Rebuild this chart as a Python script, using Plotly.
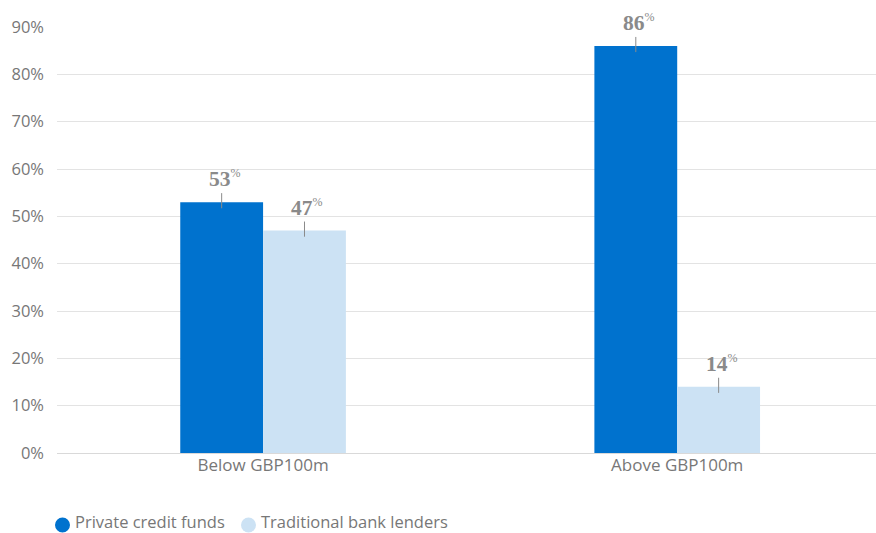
import plotly.graph_objects as go

categories = ["Below GBP100m", "Above GBP100m"]
series_names = ["Private credit funds", "Traditional bank lenders"]
private_credit = [53, 86]
bank_lenders = [47, 14]
y_ticks = [0, 10, 20, 30, 40, 50, 60, 70, 80, 90]

colors = ["#0072CE", "#CCE2F4"]
xpos = list(range(len(categories)))
offsets = [-0.1, 0.1]

W, H = 876, 533
ML, MR, MT, MB = 57, 0, 27, 80
PW, PH = W - ML - MR, H - MT - MB

def px_x(p):
    return (p - ML) / PW

def px_y(p):
    return (H - MB - p) / PH

fig = go.Figure()
for name, vals, col in zip(series_names, [private_credit, bank_lenders], colors):
    fig.add_trace(go.Bar(x=xpos, y=vals, name=name, marker_color=col,
                         marker_line_width=0, showlegend=False))

annotations = []
shapes = []
for vals, off in zip([private_credit, bank_lenders], offsets):
    for xi, v in zip(xpos, vals):
        shapes.append(dict(type="line", xref="x", yref="y", x0=xi + off, x1=xi + off,
                           y0=v - 1.3, y1=v + 1.9, line=dict(color="#8a8a8a", width=1)))
        annotations.append(dict(x=xi + off, y=v, xref="x", yref="y",
                                text=f"<b>{v}</b><sup><span style='font-size:12px'>%</span></sup>",
                                showarrow=False,
                                yanchor="bottom", yshift=9, xshift=3,
                                font=dict(family="Liberation Serif", size=21.5, color="#8a8a8a")))

# legend built from circle shapes + text
leg_circle_px = [62.5, 248.5]
leg_text_px = [74, 260]
for name, col, cx, tx in zip(series_names, colors, leg_circle_px, leg_text_px):
    shapes.append(dict(type="circle", xref="paper", yref="paper",
                       xsizemode="pixel", ysizemode="pixel",
                       xanchor=px_x(cx), yanchor=px_y(525),
                       x0=-7.5, x1=7.5, y0=-7.5, y1=7.5,
                       fillcolor=col, line=dict(width=0)))
    annotations.append(dict(x=px_x(tx), y=px_y(521), xref="paper", yref="paper",
                            text=name, showarrow=False, xanchor="left", yanchor="middle",
                            borderpad=0,
                            font=dict(family="Open Sans", size=16.5, color="#777777")))

fig.update_layout(
    width=W, height=H,
    margin=dict(l=ML, r=MR, t=MT, b=MB),
    paper_bgcolor="white", plot_bgcolor="white",
    barmode="group", bargap=0.6, bargroupgap=0,
    font=dict(family="Open Sans", color="#777777", size=16),
    showlegend=False,
    annotations=annotations, shapes=shapes,
)
fig.update_xaxes(tickvals=xpos, ticktext=categories, range=[-0.4976, 1.48],
                 showgrid=False, zeroline=False, showline=False, ticks="", automargin=False,
                 tickfont=dict(size=17, color="#777777"))
fig.update_yaxes(range=[0, 90], tickvals=y_ticks, ticktext=[f"{t}%" for t in y_ticks],
                 showgrid=True, gridcolor="#E3E3E3", gridwidth=1, zeroline=True,
                 zerolinecolor="#D9D9D9", zerolinewidth=1, ticks="", ticklabelstandoff=12,
                 automargin=False, tickfont=dict(size=16.5, color="#777777"))

fig.write_html("out.html")
